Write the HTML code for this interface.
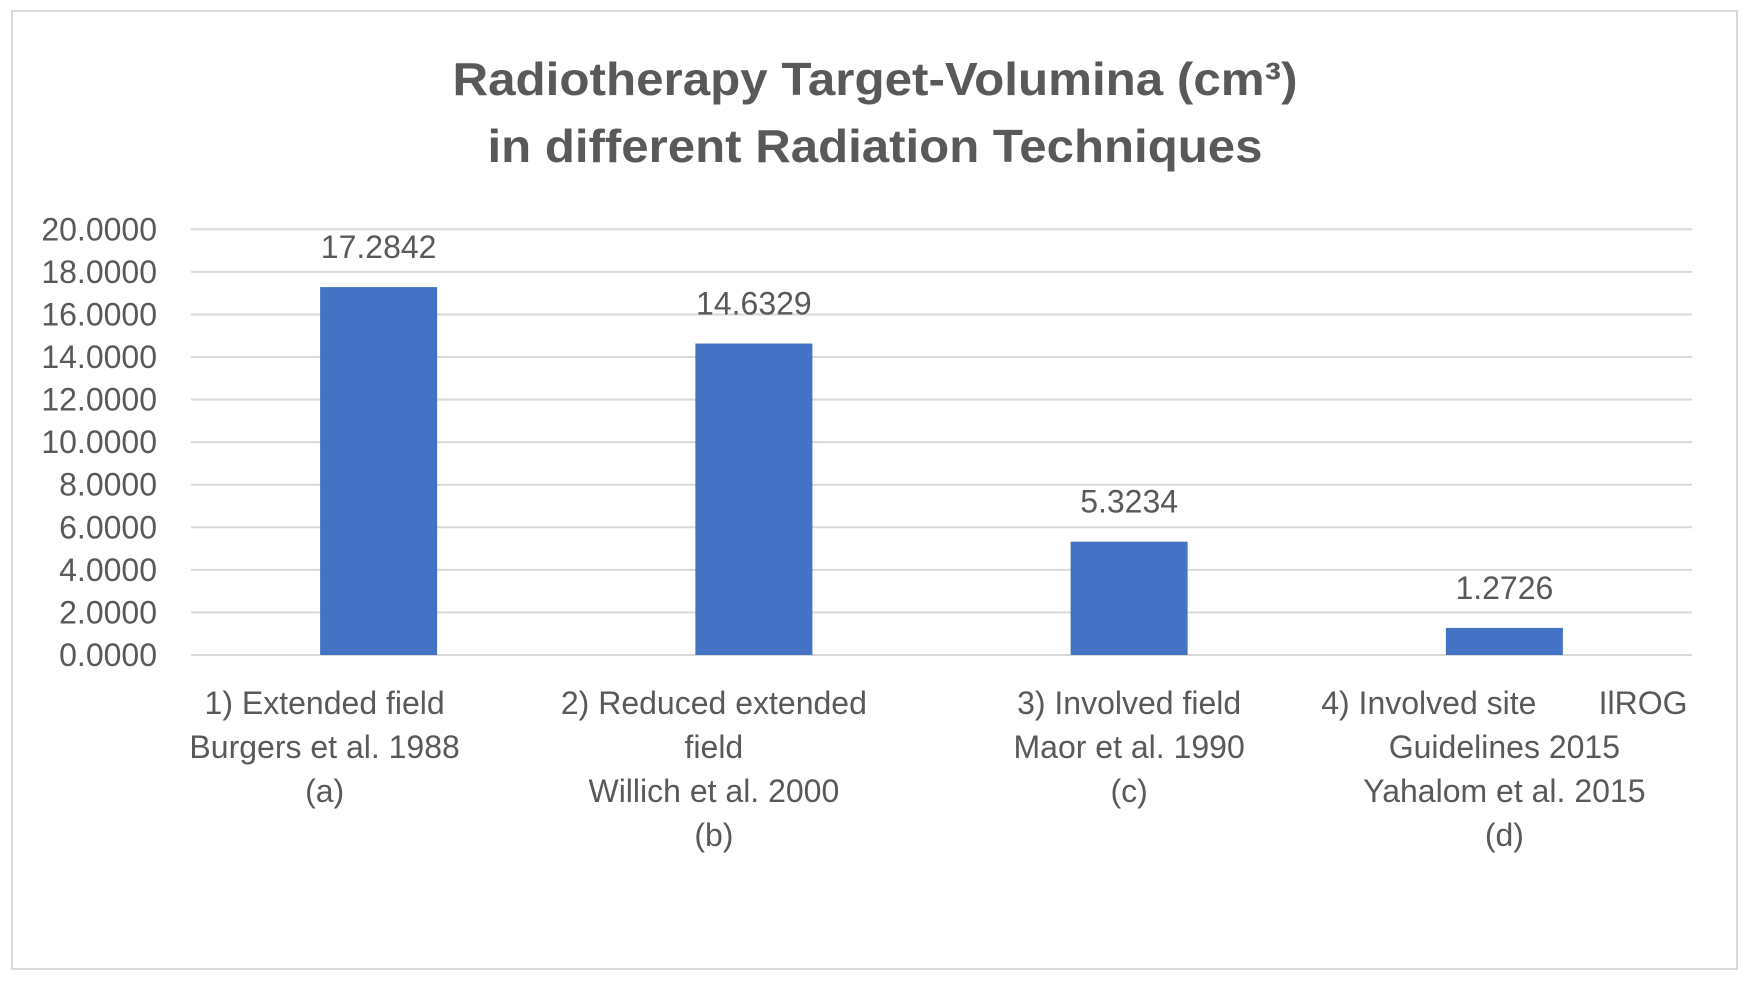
<!DOCTYPE html>
<html><head><meta charset="utf-8"><style>
html,body{margin:0;padding:0;background:#fff;width:1750px;height:985px;overflow:hidden}
svg text{font-family:"Liberation Sans",sans-serif;fill:#595959}
</style></head><body>
<svg id="chart" width="1750" height="985" viewBox="0 0 1750 985" xmlns="http://www.w3.org/2000/svg">
<rect x="12" y="11" width="1725" height="958" fill="#fff" stroke="#d9d9d9" stroke-width="2"/>
<text x="875" y="95" text-anchor="middle" font-size="46" font-weight="bold" textLength="845" lengthAdjust="spacingAndGlyphs">Radiotherapy Target-Volumina (cm³)</text>
<text x="875" y="162" text-anchor="middle" font-size="46" font-weight="bold" textLength="775" lengthAdjust="spacingAndGlyphs">in different Radiation Techniques</text>
<g id="grid"></g><g id="bars"></g><g id="labels"></g>
</svg>
<script>
const categories = [
 ["1) Extended field","Burgers et al. 1988","(a)"],
 ["2) Reduced extended","field","Willich et al. 2000","(b)"],
 ["3) Involved field","Maor et al. 1990","(c)"],
 ["4) Involved site       IlROG","Guidelines 2015","Yahalom et al. 2015","(d)"]
];
const values = [17.2842, 14.6329, 5.3234, 1.2726];
const valueLabels = ["17.2842","14.6329","5.3234","1.2726"];
const yTicks = [0,2,4,6,8,10,12,14,16,18,20];
const yTickLabels = ["0.0000","2.0000","4.0000","6.0000","8.0000","10.0000","12.0000","14.0000","16.0000","18.0000","20.0000"];

const NS="http://www.w3.org/2000/svg";
const L=191,R=1692,T=229.3,B=655,yMax=20;
const y=v=>B-(v/yMax)*(B-T);
const band=(R-L)/categories.length;
const xc=i=>L+band*(i+0.5);
const bw=117;
const labelShift=[-54,-40,0,0];
function mk(tag,attrs,parent){const e=document.createElementNS(NS,tag);for(const k in attrs)e.setAttribute(k,attrs[k]);parent.appendChild(e);return e;}
const grid=document.getElementById('grid'),bars=document.getElementById('bars'),labels=document.getElementById('labels');
yTicks.forEach((t,i)=>{
 const ln=mk('line',{x1:L,x2:R,y1:y(t),y2:y(t),stroke:'#d9d9d9','stroke-width':2},grid);
 
 
 const tx=mk('text',{x:157,y:y(t)+11,'text-anchor':'end','font-size':32},grid);
 
 
 tx.textContent=yTickLabels[i];
});
values.forEach((v,i)=>{
 const r=mk('rect',{x:xc(i)-bw/2,y:y(v),width:bw,height:B-y(v),fill:'#4472c4'},bars);
 
 
 const t=mk('text',{x:xc(i),y:y(v)-29,'text-anchor':'middle','font-size':32},labels);
 
 
 t.textContent=valueLabels[i];
 categories[i].forEach((line,j)=>{
  const c=mk('text',{x:xc(i)+(labelShift[i]||0),y:714+j*44,'text-anchor':'middle','font-size':32,'xml:space':'preserve'},labels);
  
  
  c.style.whiteSpace='pre';
  c.textContent=line;
 });
});
</script>
</body></html>
